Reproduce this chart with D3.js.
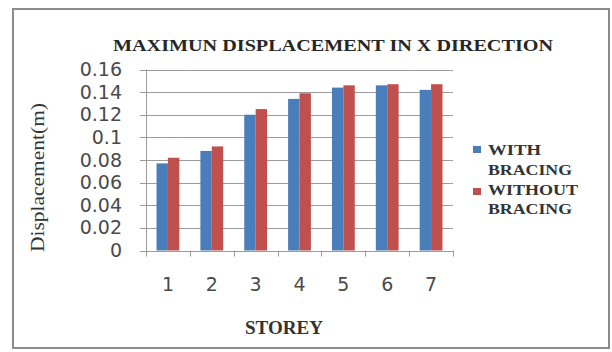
<!DOCTYPE html>
<html>
<head>
<meta charset="utf-8">
<script src="https://cdn.jsdelivr.net/npm/d3@7"></script>
<style>
  html, body { margin: 0; padding: 0; background: #fff; }
  svg { display: block; }
</style>
</head>
<body>
<svg id="chart" width="612" height="352"></svg>
<script>
// Storey-wise maximum lateral displacement (m)
const storeys = ["1", "2", "3", "4", "5", "6", "7"];
const withBracing = [0.077, 0.088, 0.120, 0.134, 0.144, 0.146, 0.142];
const withoutBracing = [0.082, 0.092, 0.125, 0.139, 0.146, 0.147, 0.147];
const seriesNames = ["WITH BRACING", "WITHOUT BRACING"];
const seriesColors = ["#4A7EBB", "#C0504D"];
const yTickValues = [0, 0.02, 0.04, 0.06, 0.08, 0.1, 0.12, 0.14, 0.16];
const yTickLabels = ["0", "0.02", "0.04", "0.06", "0.08", "0.1", "0.12", "0.14", "0.16"];

const svg = d3.select("#chart");

// chart frame
svg.append("rect")
  .attr("x", 13).attr("y", 9)
  .attr("width", 596).attr("height", 339)
  .attr("fill", "#fff")
  .attr("stroke", "#8c8c8c")
  .attr("stroke-width", 2);

const plot = { left: 146, right: 453, top: 69.5, bottom: 250.5 };

const x = d3.scaleBand().domain(storeys).range([plot.left, plot.right]);
const bw = x.bandwidth();
const x1 = d3.scaleBand().domain(seriesNames).range([bw * 0.24, bw * 0.76]);
const y = d3.scaleLinear().domain([0, 0.16]).range([plot.bottom, plot.top]);

const gridColor = "#9c9c9c";
const textColor = "#4a4a4a";

// horizontal gridlines (extend a little left as tick marks)
svg.append("g")
  .selectAll("line")
  .data(yTickValues)
  .join("line")
  .attr("x1", plot.left - 6).attr("x2", plot.right)
  .attr("y1", d => Math.round(y(d)) + 0.5)
  .attr("y2", d => Math.round(y(d)) + 0.5)
  .attr("stroke", gridColor)
  .attr("stroke-width", 1);

// y-axis tick labels
const yAxis = d3.axisLeft(y)
  .tickValues(yTickValues)
  .tickFormat((d, i) => yTickLabels[i])
  .tickSize(0)
  .tickPadding(24);
const gy = svg.append("g").attr("transform", `translate(${plot.left},0)`).call(yAxis);
gy.select(".domain").remove();
gy.selectAll("text")
  .attr("font-family", "DejaVu Sans, Verdana, sans-serif")
  .attr("font-size", 19)
  .attr("fill", textColor);

// bars
const rows = storeys.map((s, i) => ({ storey: s, values: [withBracing[i], withoutBracing[i]] }));
svg.append("g")
  .selectAll("g")
  .data(rows)
  .join("g")
  .attr("transform", d => `translate(${x(d.storey)},0)`)
  .selectAll("rect")
  .data(d => d.values.map((v, k) => ({ name: seriesNames[k], value: v, k })))
  .join("rect")
  .attr("x", d => x1(d.name))
  .attr("width", x1.bandwidth())
  .attr("y", d => y(d.value))
  .attr("height", d => y(0) - y(d.value))
  .attr("fill", d => seriesColors[d.k]);

// y axis line
svg.append("line")
  .attr("x1", plot.left + 0.5).attr("x2", plot.left + 0.5)
  .attr("y1", plot.top).attr("y2", plot.bottom + 0.5)
  .attr("stroke", gridColor);

// x axis line and category boundary ticks
const boundaries = storeys.map(s => x(s)).concat([plot.right]);
svg.append("line")
  .attr("x1", plot.left - 6).attr("x2", plot.right)
  .attr("y1", Math.round(y(0)) + 0.5).attr("y2", Math.round(y(0)) + 0.5)
  .attr("stroke", gridColor);
svg.append("g")
  .selectAll("line")
  .data(boundaries)
  .join("line")
  .attr("x1", d => Math.round(d) + 0.5).attr("x2", d => Math.round(d) + 0.5)
  .attr("y1", y(0)).attr("y2", y(0) + 6)
  .attr("stroke", gridColor);

// category labels
const xAxis = d3.axisBottom(x).tickSize(0).tickPadding(27);
const gx = svg.append("g").attr("transform", `translate(0,${y(0)})`).call(xAxis);
gx.select(".domain").remove();
gx.selectAll("text")
  .attr("font-family", "DejaVu Sans, Verdana, sans-serif")
  .attr("font-size", 19)
  .attr("fill", textColor);

// chart title
svg.append("text")
  .attr("x", 113).attr("y", 51)
  .attr("textLength", 440)
  .attr("lengthAdjust", "spacingAndGlyphs")
  .attr("font-family", "Liberation Serif, Times New Roman, serif")
  .attr("font-weight", "bold")
  .attr("font-size", 17)
  .attr("fill", "#262626")
  .text("MAXIMUN DISPLACEMENT IN X DIRECTION");

// axis titles
svg.append("text")
  .attr("x", 284).attr("y", 334)
  .attr("text-anchor", "middle")
  .attr("textLength", 78)
  .attr("lengthAdjust", "spacingAndGlyphs")
  .attr("font-family", "Liberation Serif, Times New Roman, serif")
  .attr("font-weight", "bold")
  .attr("font-size", 19)
  .attr("fill", "#333")
  .text("STOREY");

svg.append("text")
  .attr("transform", "translate(44,177.5) rotate(-90)")
  .attr("text-anchor", "middle")
  .attr("textLength", 149)
  .attr("lengthAdjust", "spacingAndGlyphs")
  .attr("font-family", "Liberation Serif, Times New Roman, serif")
  .attr("font-size", 19)
  .attr("fill", "#333")
  .text("Displacement(m)");

// legend
const legendLines = [
  { words: ["WITH", "BRACING"], widths: [53, 84], swatchY: 146, baselines: [155, 174.5] },
  { words: ["WITHOUT", "BRACING"], widths: [90, 84], swatchY: 188, baselines: [194.5, 213.5] }
];
const legend = svg.append("g");
legendLines.forEach((item, i) => {
  legend.append("rect")
    .attr("x", 473).attr("y", item.swatchY)
    .attr("width", 8).attr("height", 7)
    .attr("fill", seriesColors[i]);
  item.words.forEach((w, j) => {
    legend.append("text")
      .attr("x", 488).attr("y", item.baselines[j])
      .attr("textLength", item.widths[j])
      .attr("lengthAdjust", "spacingAndGlyphs")
      .attr("font-family", "Liberation Serif, Times New Roman, serif")
      .attr("font-weight", "bold")
      .attr("font-size", 15)
      .attr("fill", "#333")
      .text(w);
  });
});
</script>
</body>
</html>
